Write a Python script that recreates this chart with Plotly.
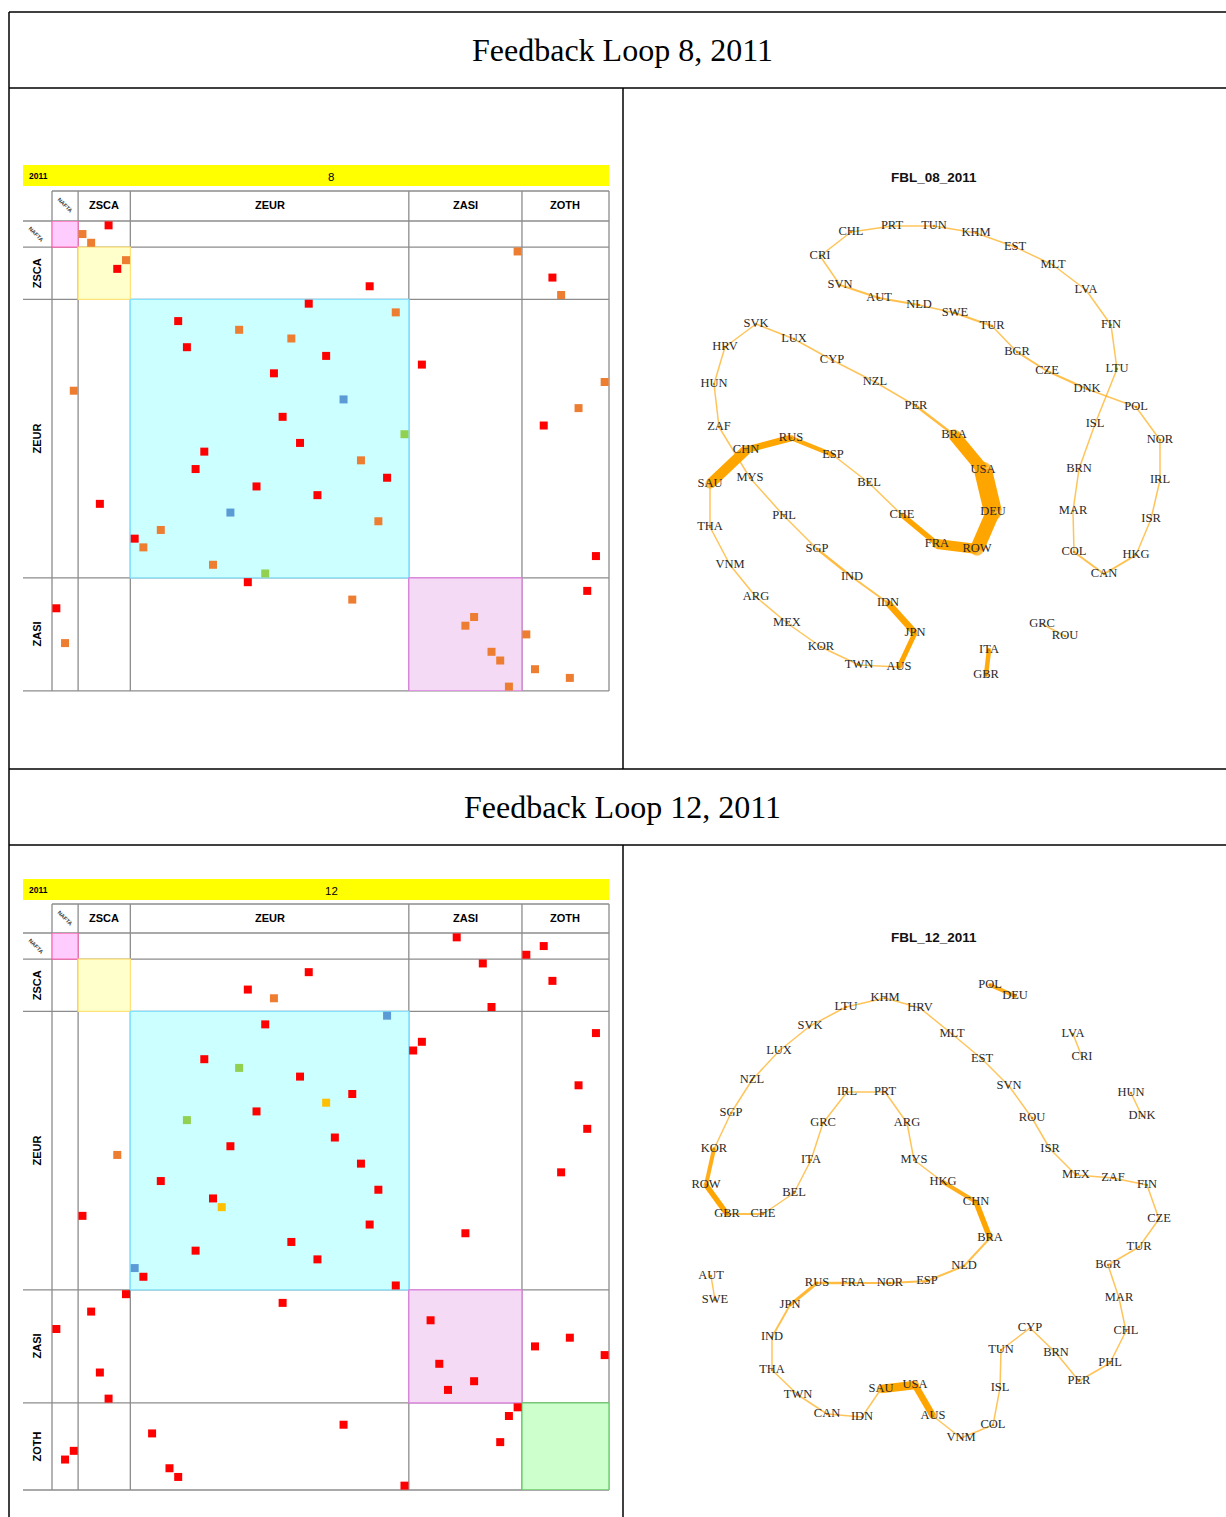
import plotly.graph_objects as go

W, H = 1226, 1517

# ---------------------------------------------------------------- matrix data
GROUPS = ["NAFTA", "ZSCA", "ZEUR", "ZASI", "ZOTH"]
GROUP_SIZES = [3, 6, 32, 13, 10]

# column hit for each row of the country matrix, and the loop each row belongs to
fbl08_cols = [6, 3, 4, 53, 8, 7, 57, 36, 58, 29, 39, 14, 21, 27, 15, 31, 42, 25, 63, 2,
              33, 60, 26, 56, 40, 28, 17, 35, 16, 38, 23, 30, 5, 20, 37, 12, 9, 10, 62, 18,
              24, 22, 61, 34, 0, 48, 47, 54, 1, 50, 51, 55, 59, 52]
fbl08_loop = ["R", "O", "O", "O", "O", "R", "R", "R", "O", "R", "O", "R", "O", "O", "R", "R",
              "R", "R", "O", "O", "B", "O", "R", "R", "G", "R", "R", "O", "R", "R", "R", "R",
              "R", "B", "O", "O", "R", "O", "R", "O", "G", "R", "R", "O", "R", "O", "O", "O",
              "O", "O", "O", "O", "O", "O"]

fbl12_cols = [46, 56, 54, 49, 29, 57, 22, 25, 50, 38, 24, 62, 42, 41, 17, 21, 28, 60, 34, 31,
              23, 15, 61, 32, 20, 7, 35, 58, 12, 37, 18, 19, 3, 36, 47, 27, 16, 30, 9, 10,
              39, 8, 26, 4, 43, 0, 59, 55, 63, 44, 5, 48, 45, 6, 53, 52, 33, 11, 51, 2,
              1, 13, 14, 40]
fbl12_loop = ["R", "R", "R", "R", "R", "R", "R", "O", "R", "B", "R", "R", "R", "R", "R", "G",
              "R", "R", "R", "Y", "R", "G", "R", "R", "R", "O", "R", "R", "R", "R", "R", "Y",
              "R", "R", "R", "R", "R", "R", "B", "R", "R", "R", "R", "R", "R", "R", "R", "R",
              "R", "R", "R", "R", "R", "R", "R", "R", "R", "R", "R", "R", "R", "R", "R", "R"]

LOOP_COLORS = {"R": "#FF0000", "O": "#ED7D31", "B": "#5B9BD5", "G": "#92D050", "Y": "#FFC000"}
BLOCK_STYLE = {
    "NAFTA": ("#FFCCFF", "rgba(255,90,170,0.85)"),
    "ZSCA": ("#FFFFCC", "#FFE27A"),
    "ZEUR": ("#CCFFFF", "#86E3FF"),
    "ZASI": ("#F5DAF5", "#E07FE0"),
    "ZOTH": ("#CCFFCC", "#6CCB6C"),
}

# ---------------------------------------------------------------- network data
fbl08_names = ["CHL", "PRT", "TUN", "KHM", "EST", "MLT", "LVA", "FIN", "LTU", "ISL", "BRN",
               "MAR", "COL", "CAN", "HKG", "ISR", "IRL", "NOR", "POL", "DNK", "CZE", "BGR",
               "TUR", "SWE", "NLD", "AUT", "SVN", "CRI",
               "SVK", "HRV", "HUN", "ZAF", "MYS", "PHL", "SGP", "IND", "IDN", "JPN", "AUS",
               "TWN", "KOR", "MEX", "ARG", "VNM", "THA", "SAU", "CHN", "RUS", "ESP", "BEL",
               "CHE", "FRA", "ROW", "DEU", "USA", "BRA", "PER", "NZL", "CYP", "LUX",
               "GRC", "ROU", "ITA", "GBR"]
fbl08_x = [851, 892, 934, 976, 1015, 1053, 1086, 1111, 1117, 1095, 1079,
           1073, 1074, 1104, 1136, 1151, 1160, 1160, 1136, 1087, 1047, 1017,
           992, 955, 919, 879, 840, 820,
           756, 725, 714, 719, 750, 784, 817, 852, 888, 915, 899,
           859, 821, 787, 756, 730, 710, 710, 746, 791, 833, 869,
           902, 937, 977, 993, 983, 954, 916, 875, 832, 794,
           1042, 1065, 989, 986]
fbl08_y = [232, 226, 226, 233, 247, 265, 290, 325, 369, 424, 469,
           511, 552, 574, 555, 519, 480, 440, 407, 389, 371, 352,
           326, 313, 305, 298, 285, 256,
           324, 347, 384, 427, 478, 516, 549, 577, 603, 633, 667,
           665, 647, 623, 597, 565, 527, 484, 450, 438, 455, 483,
           515, 544, 549, 512, 470, 435, 406, 382, 360, 339,
           624, 636, 650, 675]

# loops: members in order; weight of the link from each member to the next
fbl08_chains = [
    (["CHL", "PRT", "TUN", "KHM", "EST", "MLT", "LVA", "FIN", "LTU", "ISL", "BRN", "MAR",
      "COL", "CAN", "HKG", "ISR", "IRL", "NOR", "POL", "DNK", "CZE", "BGR", "TUR", "SWE",
      "NLD", "AUT", "SVN", "CRI"],
     [1.5, 1.5, 1.5, 1.5, 1.5, 1.5, 1.5, 1.5, 1.5, 1.5, 1.5, 1.5, 2, 2, 1.5, 1.5, 1.5, 1.5,
      1.5, 2, 2, 1.5, 2, 1.5, 2, 2, 1.5, 1.5]),
    (["SVK", "HRV", "HUN", "ZAF", "MYS", "PHL", "SGP", "IND", "IDN", "JPN", "AUS", "TWN",
      "KOR", "MEX", "ARG", "VNM", "THA", "SAU", "CHN", "RUS", "ESP", "BEL", "CHE", "FRA",
      "ROW", "DEU", "USA", "BRA", "PER", "NZL", "CYP", "LUX"],
     [1.5, 1.5, 1.5, 1.5, 1.5, 1.5, 2.5, 2, 6.5, 5, 1.5, 1.5, 1.5, 1.5, 1.5, 1.5, 1.5, 10,
      6.5, 4.5, 1.5, 1.5, 5.5, 10, 14, 18, 12, 2.5, 1.5, 1.5, 1.5, 1.5]),
    (["GRC", "ROU"], [1.5]),
    (["ITA", "GBR"], [4.5]),
]

fbl12_names = ["LTU", "KHM", "HRV", "MLT", "EST", "SVN", "ROU", "ISR", "MEX", "ZAF", "FIN",
               "CZE", "TUR", "BGR", "MAR", "CHL", "PHL", "PER", "BRN", "CYP", "TUN", "ISL",
               "COL", "VNM", "AUS", "USA", "SAU", "IDN", "CAN", "TWN", "THA", "IND", "JPN",
               "RUS", "FRA", "NOR", "ESP", "NLD", "BRA", "CHN", "HKG", "MYS", "ARG", "PRT",
               "IRL", "GRC", "ITA", "BEL", "CHE", "GBR", "ROW", "KOR", "SGP", "NZL", "LUX",
               "SVK", "POL", "DEU", "LVA", "CRI", "HUN", "DNK", "AUT", "SWE"]
fbl12_x = [846, 885, 920, 952, 982, 1009, 1032, 1050, 1076, 1113, 1147,
           1159, 1139, 1108, 1119, 1126, 1110, 1079, 1056, 1030, 1001, 1000,
           993, 961, 933, 915, 881, 862, 827, 798, 772, 772, 790,
           817, 853, 890, 927, 964, 990, 976, 943, 914, 907, 885,
           847, 823, 811, 794, 763, 727, 706, 714, 731, 752, 779,
           810, 990, 1015, 1073, 1082, 1131, 1142, 711, 715]
fbl12_y = [1007, 998, 1008, 1034, 1059, 1086, 1118, 1149, 1175, 1178, 1185,
           1219, 1247, 1265, 1298, 1331, 1363, 1381, 1353, 1328, 1350, 1388,
           1425, 1438, 1416, 1385, 1389, 1417, 1414, 1395, 1370, 1337, 1305,
           1283, 1283, 1283, 1281, 1266, 1238, 1202, 1182, 1160, 1123, 1092,
           1092, 1123, 1160, 1193, 1214, 1214, 1185, 1149, 1113, 1080, 1051,
           1026, 985, 996, 1034, 1057, 1093, 1116, 1276, 1300]

fbl12_chains = [
    (["LTU", "KHM", "HRV", "MLT", "EST", "SVN", "ROU", "ISR", "MEX", "ZAF", "FIN", "CZE",
      "TUR", "BGR", "MAR", "CHL", "PHL", "PER", "BRN", "CYP", "TUN", "ISL", "COL", "VNM",
      "AUS", "USA", "SAU", "IDN", "CAN", "TWN", "THA", "IND", "JPN", "RUS", "FRA", "NOR",
      "ESP", "NLD", "BRA", "CHN", "HKG", "MYS", "ARG", "PRT", "IRL", "GRC", "ITA", "BEL",
      "CHE", "GBR", "ROW", "KOR", "SGP", "NZL", "LUX", "SVK"],
     [1.5, 1.5, 1.5, 1.5, 1.5, 1.5, 1.5, 1.5, 1.5, 1.5, 1.5, 1.5, 1.5, 1.5, 1.5, 1.5,
      1.5, 1.5, 1.5, 1.5, 1.5, 1.5, 1.5, 1.5, 6.5, 8.5, 1.5, 1.5, 1.5, 1.5, 1.5, 2,
      3, 2.5, 2, 2, 2, 2, 5.5, 4, 1.5, 1.5, 1.5, 1.5, 1.5, 1.5, 1.5, 1.5,
      2, 5.5, 4, 1.5, 1.5, 1.5, 1.5, 1.5]),
    (["POL", "DEU"], [4]),
    (["LVA", "CRI"], [1.5]),
    (["HUN", "DNK"], [1.5]),
    (["AUT", "SWE"], [1.5]),
]

# ---------------------------------------------------------------- page geometry
MX0, MX1 = 52, 609                 # matrix left / right edge (px)
CELL = (MX1 - MX0) / sum(GROUP_SIZES)
BOUNDS = [0]
for s in GROUP_SIZES:
    BOUNDS.append(BOUNDS[-1] + s)

fig = go.Figure()
shapes = []
annotations = []


def px_x(v):
    return v / W


def px_y(v):
    return 1 - v / H


def line(x0, y0, x1, y1, color="black", width=1.5, layer="above"):
    shapes.append(dict(type="line", xref="x", yref="y", x0=x0, y0=y0, x1=x1, y1=y1,
                       line=dict(color=color, width=width), layer=layer))


def text(x, y, s, size, family="Liberation Sans", color="black", bold=False, angle=0):
    if bold:
        s = "<b>" + s + "</b>"
    annotations.append(dict(x=x, y=y, xref="x", yref="y", text=s, showarrow=False,
                            textangle=angle, xanchor="center", yanchor="middle",
                            font=dict(size=size, family=family, color=color)))


# page overlay axis in pixel units
fig.add_trace(go.Scatter(x=[0], y=[0], mode="markers", marker=dict(opacity=0),
                         hoverinfo="skip", showlegend=False, xaxis="x", yaxis="y"))

# ---- table frame
for yy in (12, 88, 769, 845):
    line(9, yy, W, yy)
line(9, 12, 9, H)
line(623, 88, 623, 769)
line(623, 845, 623, H)

text(622, 50, "Feedback Loop 8, 2011", 32, family="Liberation Serif")
text(622, 807, "Feedback Loop 12, 2011", 32, family="Liberation Serif")


# ---- matrices
def add_matrix(cols, loop, label, band_top, header_top, row_top, xa, ya, nrows):
    row_bottom = row_top + nrows * CELL
    # yellow band
    shapes.append(dict(type="rect", xref="x", yref="y", x0=23, x1=MX1, y0=band_top,
                       y1=band_top + 21, fillcolor="#FFFF00", line=dict(width=0),
                       layer="below"))
    text(38, band_top + 11, "2011", 8.5, bold=True)
    text(331, band_top + 12, label, 11.5)
    gray = "#8C8C8C"
    # group separators
    for b in BOUNDS:
        line(MX0 + b * CELL, header_top, MX0 + b * CELL, row_bottom, gray, 1.3, "below")
    line(MX0, header_top, MX1, header_top, gray, 1.3, "below")
    for b in BOUNDS:
        if b <= nrows:
            line(23, row_top + b * CELL, MX1, row_top + b * CELL, gray, 1.3, "below")
    # group labels
    for g, s, e in zip(GROUPS, BOUNDS[:-1], BOUNDS[1:]):
        cx = MX0 + (s + e) / 2 * CELL
        if g == "NAFTA":
            text(cx, header_top + 14, g, 5.5, bold=True, color="#333", angle=45)
        else:
            text(cx, header_top + 14, g, 11, bold=True)
        if e <= nrows:
            cy = row_top + (s + e) / 2 * CELL
            if g == "NAFTA":
                text(36, cy, g, 5.5, bold=True, color="#333", angle=45)
            else:
                text(37, cy, g, 11, bold=True, angle=-90)
            fill, edge = BLOCK_STYLE[g]
            shapes.append(dict(type="rect", xref=xa, yref=ya, x0=s, x1=e, y0=s, y1=e,
                               fillcolor=fill, line=dict(color=edge, width=1.3),
                               layer="below"))
    # one marker per row
    rows = list(range(len(cols)))
    for code, color in LOOP_COLORS.items():
        xs = [c + 0.5 for c, l in zip(cols, loop) if l == code]
        ys = [r + 0.5 for r, l in zip(rows, loop) if l == code]
        if xs:
            fig.add_trace(go.Scatter(x=xs, y=ys, mode="markers", xaxis=xa, yaxis=ya,
                                     marker=dict(symbol="square", size=8, color=color,
                                                 line=dict(width=0)),
                                     hoverinfo="skip", showlegend=False, cliponaxis=False))


add_matrix(fbl08_cols, fbl08_loop, "8", 165, 191, 221, "x2", "y2", 54)
add_matrix(fbl12_cols, fbl12_loop, "12", 879, 904, 933, "x3", "y3", 64)


# ---- networks
def add_network(names, xs, ys, chains, title, title_y, xa, ya):
    pos = {n: (x, y) for n, x, y in zip(names, xs, ys)}
    node_w = {n: 0 for n in names}
    for members, weights in chains:
        k = len(members)
        pairs = [(members[i], members[(i + 1) % k]) for i in range(len(weights))]
        for (a, b), w in zip(pairs, weights):
            alpha = min(1.0, 0.5 + 0.1 * w)
            fig.add_trace(go.Scatter(
                x=[pos[a][0], pos[b][0]], y=[pos[a][1], pos[b][1]], mode="lines",
                xaxis=xa, yaxis=ya, hoverinfo="skip", showlegend=False,
                line=dict(color=f"rgba(255,165,0,{alpha:.2f})", width=w)))
            node_w[a] = max(node_w[a], w)
            node_w[b] = max(node_w[b], w)
    # round joints where links are wide
    heavy = [n for n in names if node_w[n] >= 3]
    fig.add_trace(go.Scatter(
        x=[pos[n][0] for n in heavy], y=[pos[n][1] for n in heavy], mode="markers",
        xaxis=xa, yaxis=ya, hoverinfo="skip", showlegend=False,
        marker=dict(size=[node_w[n] * 0.95 for n in heavy], color="#FFA500",
                    line=dict(width=0))))
    fig.add_trace(go.Scatter(
        x=xs, y=ys, mode="markers+text", text=names, textposition="middle center",
        xaxis=xa, yaxis=ya, hoverinfo="skip", showlegend=False, cliponaxis=False,
        marker=dict(size=2.5, color="#E08A00"),
        textfont=dict(family="Liberation Serif", size=12.5, color="#2a2a2a")))
    text(934, title_y, title, 13.5, bold=True, color="#111")


add_network(fbl08_names, fbl08_x, fbl08_y, fbl08_chains, "FBL_08_2011", 177, "x4", "y4")
add_network(fbl12_names, fbl12_x, fbl12_y, fbl12_chains, "FBL_12_2011", 937, "x5", "y5")

hidden = dict(visible=False, fixedrange=True, showgrid=False, zeroline=False)
fig.update_layout(
    width=W, height=H, margin=dict(l=0, r=0, t=0, b=0),
    paper_bgcolor="white", plot_bgcolor="rgba(0,0,0,0)",
    showlegend=False, shapes=shapes, annotations=annotations,
    xaxis=dict(hidden, range=[0, W], domain=[0, 1]),
    yaxis=dict(hidden, range=[H, 0], domain=[0, 1]),
    xaxis2=dict(hidden, range=[0, 64], domain=[px_x(MX0), px_x(MX1)], anchor="y2"),
    yaxis2=dict(hidden, range=[54, 0], domain=[px_y(221 + 54 * CELL), px_y(221)], anchor="x2"),
    xaxis3=dict(hidden, range=[0, 64], domain=[px_x(MX0), px_x(MX1)], anchor="y3"),
    yaxis3=dict(hidden, range=[64, 0], domain=[px_y(933 + 64 * CELL), px_y(933)], anchor="x3"),
    xaxis4=dict(hidden, range=[623, W], domain=[px_x(623), 1], anchor="y4"),
    yaxis4=dict(hidden, range=[769, 88], domain=[px_y(769), px_y(88)], anchor="x4"),
    xaxis5=dict(hidden, range=[623, W], domain=[px_x(623), 1], anchor="y5"),
    yaxis5=dict(hidden, range=[H, 845], domain=[0, px_y(845)], anchor="x5"),
)

fig.write_html("out.html")
